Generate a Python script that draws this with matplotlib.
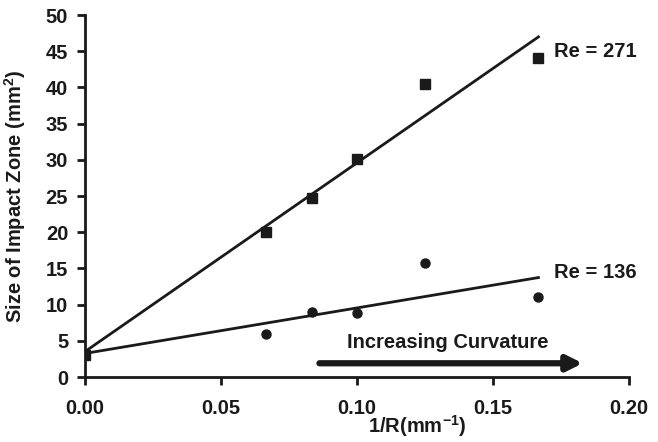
import matplotlib
matplotlib.use("Agg")
import matplotlib.pyplot as plt
import numpy as np

plt.rcParams['font.family'] = ['Liberation Sans', 'DejaVu Sans']
plt.rcParams['font.weight'] = 'bold'
plt.rcParams['mathtext.fontset'] = 'custom'
plt.rcParams['mathtext.rm'] = 'Liberation Sans:bold'
plt.rcParams['mathtext.bf'] = 'Liberation Sans:bold'
plt.rcParams['mathtext.default'] = 'rm'

# Data
inv_r = [0.0, 0.0667, 0.0833, 0.100, 0.125, 0.1667]
re271 = [3.0, 20.0, 24.7, 30.1, 40.5, 44.0]
re136 = [3.0, 6.0, 9.0, 8.8, 15.8, 11.0]

INK = '#1a1a1a'
FS = 14.5

fig = plt.figure(figsize=(6.58, 4.42), dpi=100)
ax = fig.add_axes([0.129, 0.147, 0.827, 0.819])

# linear fits
x_fit = np.array([0.0, 0.1667])
for y, lbl, ly in [(re136, 'Re = 136', 14.5), (re271, 'Re = 271', 44.9)]:
    k, b = np.polyfit(inv_r, y, 1)
    ax.plot(x_fit, k * x_fit + b, color=INK, lw=2, zorder=2)
    ax.text(0.1725, ly, lbl, fontsize=FS, fontweight='bold', va='center', color=INK)

ax.plot(inv_r, re136, 'o', color=INK, ms=6.5, zorder=3)
ax.plot(inv_r, re271, 's', color=INK, ms=7.5, zorder=4)

# arrow
ax.annotate('', xy=(0.1830, 1.9), xytext=(0.0862, 1.9),
            arrowprops=dict(arrowstyle='-|>,head_length=0.9,head_width=0.45', lw=4.5, color=INK,
                            shrinkA=0, shrinkB=0))
ax.text(0.1335, 4.7, 'Increasing Curvature', fontsize=FS, fontweight='bold', ha='center', va='center',
        color=INK)

ax.set_xlim(0, 0.20)
ax.set_ylim(0, 50)
ax.set_xticks([0.0, 0.05, 0.10, 0.15, 0.20])
ax.set_xticklabels(['0.00', '0.05', '0.10', '0.15', '0.20'])
ax.set_yticks(range(0, 51, 5))
for s in ['top', 'right']:
    ax.spines[s].set_visible(False)
for s in ['left', 'bottom']:
    ax.spines[s].set_linewidth(2)
    ax.spines[s].set_color(INK)
ax.tick_params(direction='out', length=6, width=2, labelsize=FS, color=INK, labelcolor=INK)
ax.tick_params(axis='x', pad=10)
ax.tick_params(axis='y', pad=6)

ax.set_ylabel('Size of Impact Zone (mm$^2$)', fontsize=FS, fontweight='bold', color=INK)
ax.yaxis.set_label_coords(-0.105, 0.5)
ax.set_xlabel('1/R(mm$^{-1}$)', fontsize=FS, fontweight='bold', color=INK)
ax.xaxis.set_label_coords(0.61, -0.136)
ax.xaxis.label.set_va('center')

fig.savefig('out.png', dpi=100)
